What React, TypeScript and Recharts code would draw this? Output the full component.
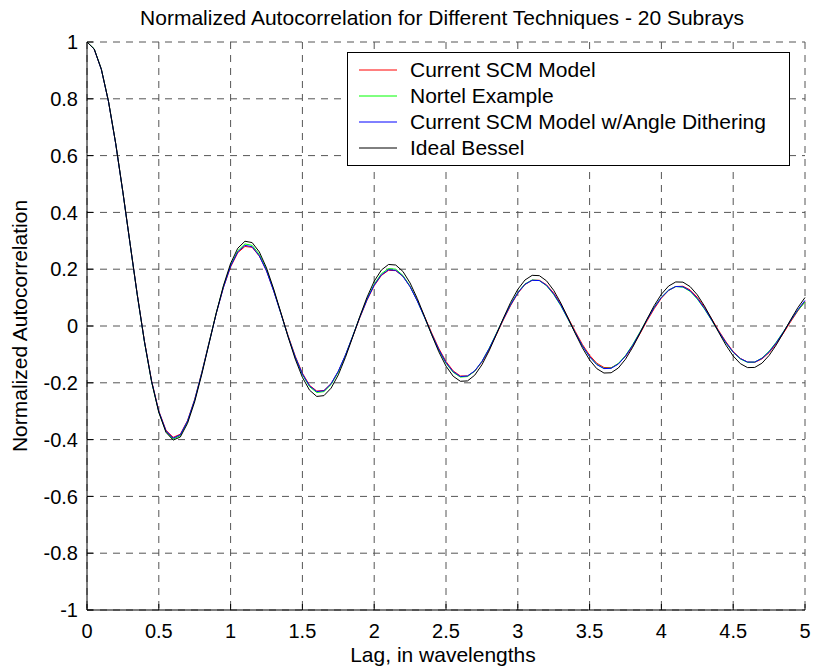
import { CartesianGrid, Legend, Line, LineChart, XAxis, YAxis } from 'recharts';

const FONT = '"Liberation Sans", Arial, Helvetica, sans-serif';

// lag axis is sampled every 0.05 wavelengths, 0 .. 5
const LAG_STEP = 0.05;

const BESSEL = [
  1.0, 0.9755, 0.9037, 0.7899, 0.6425, 0.472, 0.2905, 0.1109, -0.055, -0.1962,
  -0.3042, -0.3743, -0.4019, -0.3908, -0.3427, -0.2666, -0.1689, -0.0617, 0.0453, 0.142,
  0.2203, 0.2739, 0.2985, 0.2937, 0.2609, 0.2046, 0.1304, 0.0471, -0.0381, -0.1164,
  -0.1807, -0.2262, -0.248, -0.2452, -0.2188, -0.1721, -0.1101, -0.0391, 0.0337, 0.1014,
  0.1576, 0.1971, 0.2167, 0.2147, 0.1921, 0.1514, 0.0969, 0.0342, -0.0305, -0.0909,
  -0.1412, -0.1769, -0.1947, -0.1933, -0.1732, -0.1367, -0.0876, -0.0308, 0.028, 0.083,
  0.1291, 0.1619, 0.1784, 0.1773, 0.159, 0.1256, 0.0805, 0.0282, -0.026, -0.0769,
  -0.1196, -0.1501, -0.1656, -0.1647, -0.1479, -0.1169, -0.0749, -0.0262, 0.0244, 0.072,
  0.112, 0.1406, 0.1551, 0.1544, 0.1387, 0.1097, 0.0703, 0.0246, -0.023, -0.0679,
  -0.1057, -0.1326, -0.1465, -0.1459, -0.1311, -0.1037, -0.0665, -0.0232, 0.0219, 0.0645,
  0.1003,
];

const SCM_MODEL = [
  1.0, 0.975, 0.904, 0.79, 0.642, 0.471, 0.29, 0.111, -0.053, -0.193,
  -0.299, -0.367, -0.392, -0.381, -0.333, -0.258, -0.162, -0.058, 0.045, 0.135,
  0.208, 0.258, 0.28, 0.277, 0.246, 0.194, 0.124, 0.046, -0.033, -0.106,
  -0.166, -0.209, -0.229, -0.227, -0.203, -0.16, -0.103, -0.038, 0.029, 0.091,
  0.142, 0.178, 0.196, 0.195, 0.175, 0.139, 0.09, 0.034, -0.024, -0.079,
  -0.125, -0.158, -0.176, -0.176, -0.159, -0.127, -0.083, -0.031, 0.022, 0.072,
  0.115, 0.146, 0.161, 0.161, 0.145, 0.116, 0.076, 0.029, -0.019, -0.065,
  -0.103, -0.131, -0.146, -0.147, -0.133, -0.107, -0.071, -0.028, 0.018, 0.061,
  0.098, 0.125, 0.139, 0.14, 0.127, 0.101, 0.066, 0.025, -0.017, -0.056,
  -0.09, -0.114, -0.127, -0.128, -0.116, -0.094, -0.062, -0.025, 0.015, 0.053,
  0.087,
];

const NORTEL = [
  1.0, 0.976, 0.904, 0.79, 0.642, 0.47, 0.289, 0.109, -0.056, -0.197,
  -0.303, -0.372, -0.398, -0.386, -0.337, -0.261, -0.164, -0.059, 0.046, 0.139,
  0.214, 0.265, 0.289, 0.284, 0.252, 0.198, 0.126, 0.045, -0.036, -0.11,
  -0.171, -0.214, -0.234, -0.231, -0.206, -0.162, -0.103, -0.036, 0.032, 0.095,
  0.147, 0.184, 0.202, 0.2, 0.178, 0.14, 0.089, 0.031, -0.029, -0.085,
  -0.131, -0.163, -0.18, -0.178, -0.159, -0.125, -0.079, -0.027, 0.026, 0.076,
  0.118, 0.148, 0.162, 0.16, 0.142, 0.111, 0.071, 0.024, -0.024, -0.07,
  -0.108, -0.135, -0.149, -0.148, -0.132, -0.104, -0.066, -0.022, 0.023, 0.066,
  0.101, 0.126, 0.139, 0.137, 0.122, 0.095, 0.06, 0.02, -0.021, -0.06,
  -0.093, -0.116, -0.128, -0.127, -0.113, -0.089, -0.057, -0.02, 0.019, 0.055,
  0.084,
];

const SCM_DITHER = [
  1.0, 0.975, 0.903, 0.789, 0.641, 0.47, 0.289, 0.11, -0.055, -0.195,
  -0.301, -0.369, -0.395, -0.383, -0.335, -0.26, -0.164, -0.06, 0.044, 0.136,
  0.211, 0.261, 0.284, 0.279, 0.247, 0.194, 0.123, 0.044, -0.036, -0.109,
  -0.169, -0.211, -0.231, -0.228, -0.203, -0.159, -0.102, -0.036, 0.031, 0.093,
  0.144, 0.18, 0.198, 0.196, 0.175, 0.138, 0.088, 0.031, -0.028, -0.083,
  -0.129, -0.161, -0.178, -0.176, -0.158, -0.125, -0.08, -0.028, 0.025, 0.075,
  0.117, 0.147, 0.161, 0.16, 0.143, 0.113, 0.073, 0.025, -0.023, -0.07,
  -0.108, -0.136, -0.15, -0.149, -0.134, -0.106, -0.068, -0.024, 0.022, 0.065,
  0.101, 0.126, 0.139, 0.138, 0.124, 0.097, 0.062, 0.021, -0.02, -0.059,
  -0.092, -0.115, -0.127, -0.127, -0.114, -0.091, -0.059, -0.021, 0.019, 0.057,
  0.09,
];

const X_TICKS = [0, 0.5, 1, 1.5, 2, 2.5, 3, 3.5, 4, 4.5, 5];
const Y_TICKS = [-1, -0.8, -0.6, -0.4, -0.2, 0, 0.2, 0.4, 0.6, 0.8, 1];

const SERIES = [
  { key: 'scm', name: 'Current SCM Model', color: '#ff0000', values: SCM_MODEL },
  { key: 'nortel', name: 'Nortel Example', color: '#00ff00', values: NORTEL },
  { key: 'dither', name: 'Current SCM Model w/Angle Dithering', color: '#0000ff', values: SCM_DITHER },
  { key: 'bessel', name: 'Ideal Bessel', color: '#000000', values: BESSEL },
];

const data = BESSEL.map((_, i) => {
  const row: Record<string, number> = { lag: Math.round(i * LAG_STEP * 100) / 100 };
  for (const s of SERIES) row[s.key] = s.values[i];
  return row;
});

const tickStyle = { fill: '#000', fontSize: 20, fontFamily: FONT };

// boxed legend in plotting order, independent of recharts' item sorting
function LegendBox() {
  return (
    <div
      style={{
        width: 443,
        height: 114,
        boxSizing: 'border-box',
        border: '1px solid #000',
        background: '#fff',
        paddingTop: 4,
        fontFamily: FONT,
        fontSize: 21,
        lineHeight: '26px',
        color: '#000',
      }}
    >
      {SERIES.map((s) => (
        <div key={s.key} style={{ display: 'flex', alignItems: 'center', height: 26 }}>
          <svg width={38} height={4} style={{ marginLeft: 11, marginRight: 13, flex: 'none' }}>
            <line x1={0} x2={38} y1={2} y2={2} stroke={s.color} strokeWidth={1} />
          </svg>
          <span style={{ whiteSpace: 'nowrap' }}>{s.name}</span>
        </div>
      ))}
    </div>
  );
}

export default function App() {
  return (
    <div style={{ position: 'absolute', left: 0, top: 0, width: 813, height: 671, background: '#fff' }}>
      <LineChart width={813} height={671} data={data} margin={{ top: 42, right: 8, left: 27, bottom: 31 }}>
        <CartesianGrid xAxisId="b" yAxisId="l" stroke="#555" strokeDasharray="7 6" />
        <XAxis
          xAxisId="b"
          dataKey="lag"
          type="number"
          domain={[0, 5]}
          ticks={X_TICKS}
          interval={0}
          height={30}
          tickSize={-6}
          tickMargin={20}
          stroke="#000"
          tick={tickStyle}
        />
        <XAxis
          xAxisId="t"
          orientation="top"
          dataKey="lag"
          type="number"
          domain={[0, 5]}
          ticks={X_TICKS}
          interval={0}
          height={0}
          tickSize={-6}
          tick={false}
          stroke="#000"
        />
        <YAxis
          yAxisId="l"
          type="number"
          domain={[-1, 1]}
          ticks={Y_TICKS}
          interval={0}
          width={60}
          tickSize={-6}
          tickMargin={15}
          stroke="#000"
          tick={tickStyle}
        />
        <YAxis
          yAxisId="r"
          orientation="right"
          type="number"
          domain={[-1, 1]}
          ticks={Y_TICKS}
          interval={0}
          width={0}
          tickSize={-6}
          tick={false}
          stroke="#000"
        />
        <Legend
          layout="horizontal"
          align="center"
          verticalAlign="middle"
          wrapperStyle={{ left: 347, top: 52, width: 443 }}
          content={LegendBox}
        />
        {SERIES.map((s) => (
          <Line
            key={s.key}
            xAxisId="b"
            yAxisId="l"
            type="linear"
            dataKey={s.key}
            name={s.name}
            stroke={s.color}
            strokeWidth={1}
            dot={false}
            activeDot={false}
            isAnimationActive={false}
          />
        ))}
      </LineChart>
      <svg
        width={813}
        height={671}
        style={{ position: 'absolute', left: 0, top: 0, pointerEvents: 'none' }}
        fontFamily={FONT}
        fontSize={21}
        fill="#000"
      >
        <text x={442} y={25} textAnchor="middle">
          Normalized Autocorrelation for Different Techniques - 20 Subrays
        </text>
        <text x={443} y={662} textAnchor="middle">
          Lag, in wavelengths
        </text>
        <text transform="translate(27,326) rotate(-90)" textAnchor="middle">
          Normalized Autocorrelation
        </text>
      </svg>
    </div>
  );
}
